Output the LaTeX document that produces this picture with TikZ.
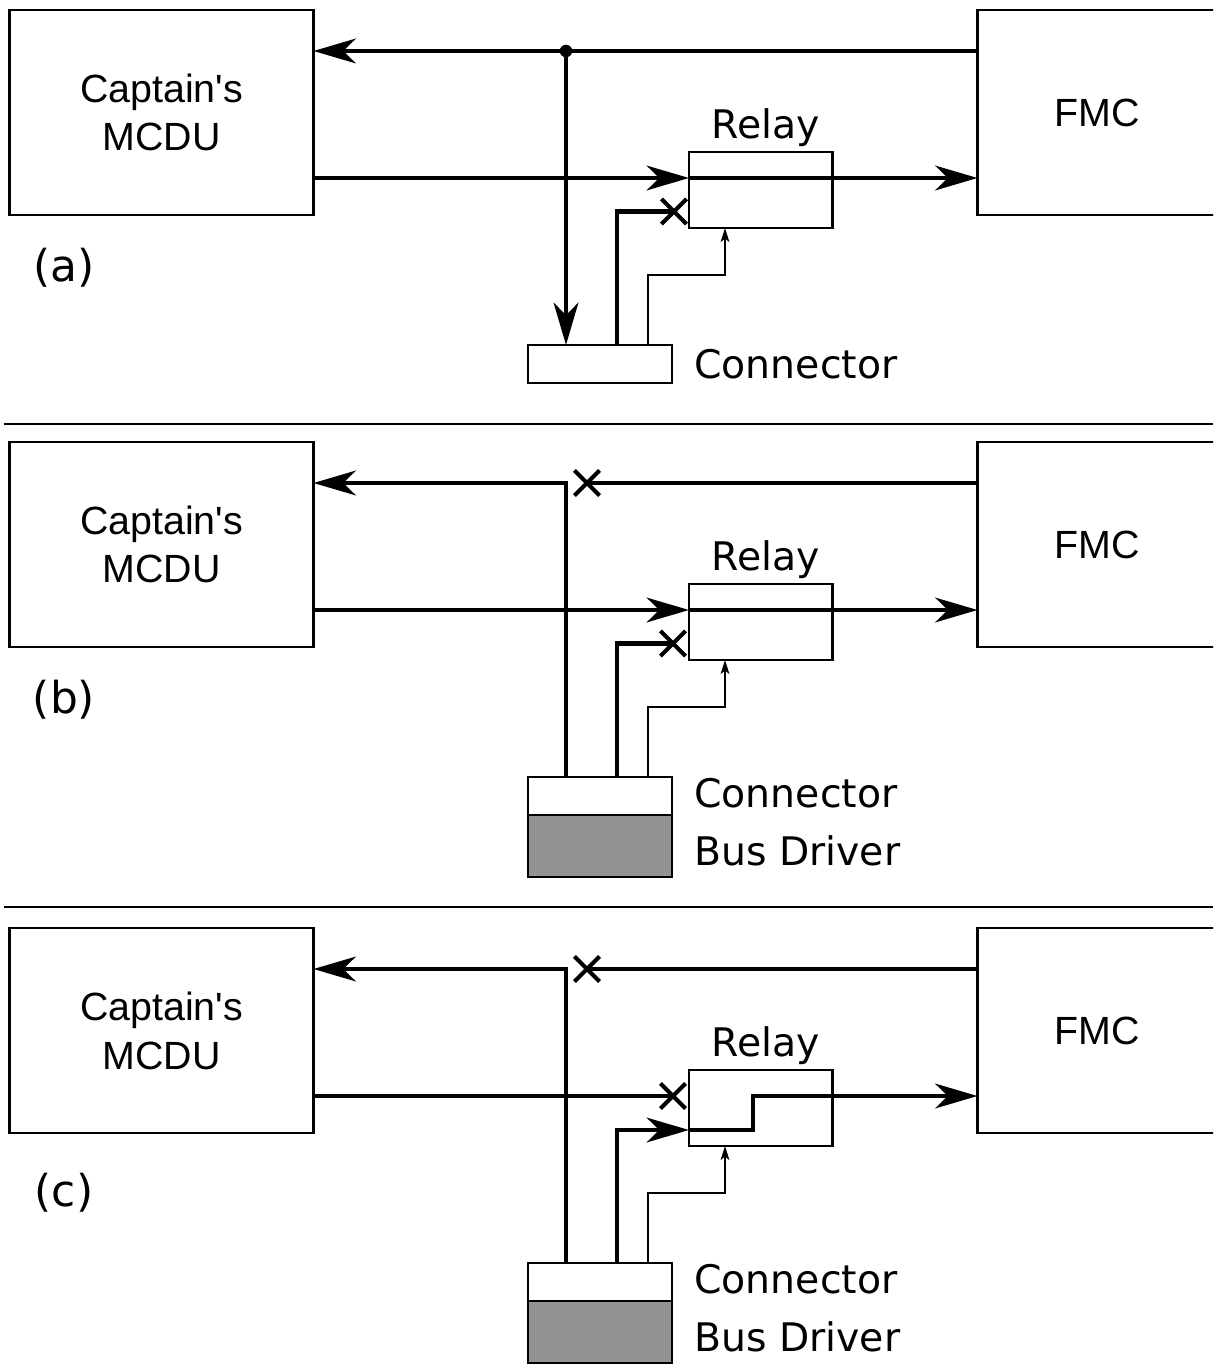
\documentclass[tikz,border=0pt]{standalone}
\usepackage{fontspec}
\setmainfont{DejaVu Sans}
\newfontfamily\boxfont{Liberation Sans}
\usepackage{xcolor}
\usepackage{tikz}
\usetikzlibrary{arrows.meta,positioning,shapes.misc}
\definecolor{drivergray}{HTML}{939393}
\tikzset{
  unitbox/.style={
    rectangle,
    draw=black,
    line width=1.5pt,
    outer sep=0pt,
    align=center,
    minimum height=4.1cm,
    font=\boxfont\fontsize{22.4}{27.8}\selectfont
  },
  mcdubox/.style={unitbox, minimum width=6.08cm},
  fmcbox/.style={unitbox, minimum width=4.8cm},
  relaybox/.style={
    rectangle,
    draw=black,
    line width=1.5pt,
    outer sep=0pt,
    minimum width=2.87cm,
    minimum height=1.52cm
  },
  plugbox/.style={relaybox, minimum width=2.88cm, minimum height=0.76cm},
  driverbox/.style={plugbox, fill=drivergray, minimum height=1.24cm},
  partlabel/.style={inner sep=0pt, font=\fontsize{22.4}{27}\selectfont},
  tagtext/.style={inner sep=0pt, font=\fontsize{25}{30}\selectfont},
  junction/.style={circle, fill=black, inner sep=0pt, minimum size=0.25cm},
  cutmark/.style={cross out, draw=black, line width=2.3pt, inner sep=0pt, minimum size=0.42cm},
  buswire/.style={line width=2.7pt},
  busarrow/.style={-{Stealth[length=24pt, width=14pt, inset=7pt]}, line width=2.7pt},
  ctrlarrow/.style={-{Stealth[length=8pt, width=5pt, inset=2pt]}, line width=0.8pt},
  divider/.style={line width=0.9pt}
}

\begin{document}
\begin{tikzpicture}[x=0.02cm, y=-0.02cm]
\useasboundingbox (0,0) rectangle (1213,1364);
\clip (0,0) rectangle (1213,1364);
% (a) relay passes the bus, connector listens
\node[mcdubox] (mcduA) at (161.5,112.5) {Captain's\\MCDU};
\node[fmcbox] (fmcA) at (1097.5,112.5) {FMC};
\node[relaybox] (relayA) at (760.75,190) {};
\node[partlabel, above=0.1cm of relayA, xshift=0.1cm] (relaytxtA) {Relay};
\node[plugbox] (plugA) at (600,364) {};
\node[partlabel, right=0.44cm of plugA] (plugtxtA) {Connector};
\node[tagtext] (tagA) at (64,268) {(a)};
\node[junction] (tapA) at (566,51) {};
\node[cutmark] (cutA) at (674,211.5) {};
\coordinate (busA) at (0,178);
\coordinate (padA) at (617,0);
\coordinate (bendA) at (648,275);
\coordinate (coilA) at (725,0);
\draw[busarrow] (fmcA.west |- tapA) -- (mcduA.east |- tapA);
\draw[busarrow] (tapA.center) -- (plugA.north -| tapA);
\draw[busarrow] (mcduA.east |- busA) -- (relayA.west |- busA);
\draw[busarrow] (relayA.west |- busA) -- (fmcA.west |- busA);
\draw[buswire] (plugA.north -| padA) |- (cutA.center);
\draw[ctrlarrow] (plugA.north -| bendA) |- (bendA -| coilA) -- (relayA.south -| coilA);

\draw[divider] (3.5,424) -- (1213,424);

% (b) bus driver feeds the MCDU
\begin{scope}[shift={(0,432)}]
\node[mcdubox] (mcduB) at (161.5,112.5) {Captain's\\MCDU};
\node[fmcbox] (fmcB) at (1097.5,112.5) {FMC};
\node[relaybox] (relayB) at (760.75,190) {};
\node[partlabel, above=0.1cm of relayB, xshift=0.1cm] (relaytxtB) {Relay};
\node[plugbox] (plugB) at (600,364) {};
\node[driverbox, below=0pt of plugB] (driverB) {};
\node[partlabel, right=0.44cm of plugB, yshift=0.06cm] (plugtxtB) {Connector};
\node[partlabel, below=1.16cm of plugtxtB.west, anchor=west] (drivertxtB) {Bus Driver};
\node[tagtext] (tagB) at (64,268) {(b)};
\node[cutmark] (cutB) at (587,51) {};
\node[cutmark] (cutrelayB) at (673,211.5) {};
\coordinate (tapB) at (566,51);
\coordinate (busB) at (0,178);
\coordinate (padB) at (617,0);
\coordinate (bendB) at (648,275);
\coordinate (coilB) at (725,0);
\draw[buswire] (fmcB.west |- cutB) -- (cutB.center);
\draw[busarrow] (plugB.north -| tapB) -- (tapB) -- (mcduB.east |- tapB);
\draw[busarrow] (mcduB.east |- busB) -- (relayB.west |- busB);
\draw[busarrow] (relayB.west |- busB) -- (fmcB.west |- busB);
\draw[buswire] (plugB.north -| padB) |- (cutrelayB.center);
\draw[ctrlarrow] (plugB.north -| bendB) |- (bendB -| coilB) -- (relayB.south -| coilB);
\end{scope}

\draw[divider] (3.5,907) -- (1213,907);

% (c) relay switched, bus driver feeds both
\begin{scope}[shift={(0,918)}]
\node[mcdubox] (mcduC) at (161.5,112.5) {Captain's\\MCDU};
\node[fmcbox] (fmcC) at (1097.5,112.5) {FMC};
\node[relaybox] (relayC) at (760.75,190) {};
\node[partlabel, above=0.1cm of relayC, xshift=0.1cm] (relaytxtC) {Relay};
\node[plugbox] (plugC) at (600,364) {};
\node[driverbox, below=0pt of plugC] (driverC) {};
\node[partlabel, right=0.44cm of plugC, yshift=0.06cm] (plugtxtC) {Connector};
\node[partlabel, below=1.16cm of plugtxtC.west, anchor=west] (drivertxtC) {Bus Driver};
\node[tagtext] (tagC) at (64,275) {(c)};
\node[cutmark] (cutC) at (587,51) {};
\node[cutmark] (cutbusC) at (673,178) {};
\coordinate (tapC) at (566,51);
\coordinate (busC) at (0,178);
\coordinate (lowC) at (0,212);
\coordinate (swC) at (753,178);
\coordinate (padC) at (617,0);
\coordinate (bendC) at (648,275);
\coordinate (coilC) at (725,0);
\draw[buswire] (fmcC.west |- cutC) -- (cutC.center);
\draw[busarrow] (plugC.north -| tapC) -- (tapC) -- (mcduC.east |- tapC);
\draw[buswire] (mcduC.east |- busC) -- (cutbusC.center);
\draw[busarrow] (plugC.north -| padC) |- (relayC.west |- lowC);
\draw[busarrow] (relayC.west |- lowC) -| (swC) -- (fmcC.west |- busC);
\draw[ctrlarrow] (plugC.north -| bendC) |- (bendC -| coilC) -- (relayC.south -| coilC);
\end{scope}
\end{tikzpicture}
\end{document}
